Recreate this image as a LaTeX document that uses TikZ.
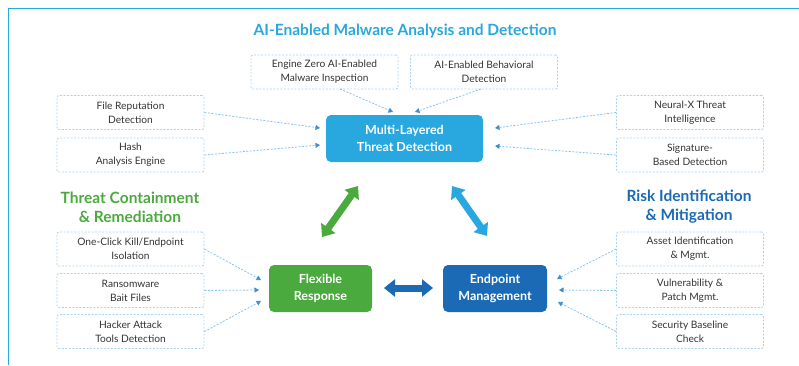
\documentclass[tikz,border=0pt]{standalone}
\usepackage{fontspec}
\setmainfont{Lato}
\usetikzlibrary{arrows.meta,positioning}
\definecolor{aicyan}{HTML}{29A7DF}
\definecolor{rgreen}{HTML}{4BAA3E}
\definecolor{mblue}{HTML}{1B6AB5}
\definecolor{dbox}{HTML}{A9D3EE}
\definecolor{dline}{HTML}{86C3EA}
\definecolor{dtip}{HTML}{3D8FD1}
\definecolor{txt}{HTML}{333333}
\begin{document}
\begin{tikzpicture}[x=1pt,y=-1pt,
        feat/.style={draw=dbox,line width=0.8pt,dash pattern=on 2pt off 1.5pt,rounded corners=2pt,minimum width=147pt,minimum height=34pt,align=center,text=txt,font=\fontsize{10.2}{14}\selectfont,inner sep=0pt},
        core/.style={fill=#1,rounded corners=5pt,minimum height=47pt,align=center,text=white,font=\fontsize{12.5}{17}\selectfont\bfseries,inner sep=0pt},
        hdr/.style={text=#1,align=center,font=\fontsize{15.5}{19}\selectfont\bfseries},
        conn/.style={dline,line width=0.8pt,dash pattern=on 2pt off 1.5pt,-{Triangle[length=4.5pt,width=5pt,color=dtip]}},
        dbl/.style={#1,line width=7pt,{Triangle[length=11pt,width=17pt]}-{Triangle[length=11pt,width=17pt]}}]
                                \useasboundingbox (0,0) rectangle (799,365);
                                \draw[aicyan,line width=1pt] (8,365) -- (8,8) -- (799,8);

                                \node[hdr=aicyan] (t1) at (405,31) {AI-Enabled Malware Analysis and Detection};
                                \node[hdr=rgreen] (t2) at (130,207) {Threat Containment\\\& Remediation};
                                \node[hdr=mblue] (t3) at (689,207) {Risk Identification\\\& Mitigation};

                                \node[core=aicyan,minimum width=157pt] (multi) at (404.5,138.5) {Multi-Layered\\Threat Detection};
                                \node[core=rgreen,minimum width=103pt] (flex) at (320.5,288.5) {Flexible\\Response};
                                \node[core=mblue,minimum width=104pt] (endp) at (495,288.5) {Endpoint\\Management};

                                \node[feat] (a1) at (324.5,72) {Engine Zero AI-Enabled\\Malware Inspection};
                                \node[feat] (a2) at (484,72) {AI-Enabled Behavioral\\Detection};
                                \node[feat] (a3) at (130.5,112.5) {File Reputation\\Detection};
                                \node[feat] (a4) at (130.5,155) {Hash\\Analysis Engine};
                                \node[feat] (a5) at (690,112.5) {Neural-X Threat\\Intelligence};
                                \node[feat] (a6) at (690,155) {Signature-\\Based Detection};

                                \node[feat] (b1) at (130.5,249) {One-Click Kill/Endpoint\\Isolation};
                                \node[feat] (b2) at (130.5,290.5) {Ransomware\\Bait Files};
                                \node[feat] (b3) at (130.5,331.5) {Hacker Attack\\Tools Detection};

                                \node[feat] (c1) at (690,249) {Asset Identification\\\& Mgmt.};
                                \node[feat] (c2) at (690,290.5) {Vulnerability \&\\Patch Mgmt.};
                                \node[feat] (c3) at (690,331.5) {Security Baseline\\Check};

                                \coordinate (m1) at (393,112);
                                \coordinate (m2) at (415,112);
                                \coordinate (m3) at (320,128);
                                \coordinate (m4) at (320,145);
                                \coordinate (m5) at (495,128);
                                \coordinate (m6) at (495,146);
                                \coordinate (f1) at (261,280);
                                \coordinate (f2) at (259,290);
                                \coordinate (f3) at (261,301);
                                \coordinate (e1) at (557,279);
                                \coordinate (e2) at (559,290);
                                \coordinate (e3) at (558,302);

                                \draw[conn] (340,89) -- (m1);
                                \draw[conn] (481,89) -- (m2);
                                \draw[conn] (a3.east) -- (m3);
                                \draw[conn] (a4.east) -- (m4);
                                \draw[conn] (a5.west) -- (m5);
                                \draw[conn] (a6.west) -- (m6);
                                \draw[conn] (b1.east) -- (f1);
                                \draw[conn] (b2.east) -- (f2);
                                \draw[conn] (b3.east) -- (f3);
                                \draw[conn] (c1.west) -- (e1);
                                \draw[conn] (c2.west) -- (e2);
                                \draw[conn] (c3.west) -- (e3);

                                \coordinate (g1) at (322,237);
                                \coordinate (g2) at (358,186);
                                \coordinate (k1) at (452,186);
                                \coordinate (k2) at (487,236);
                                \coordinate (h1) at (384,288);
                                \coordinate (h2) at (433,288);
                                \draw[dbl=rgreen] (g1) -- (g2);
                                \draw[dbl=aicyan] (k1) -- (k2);
                                \draw[dbl=mblue] (h1) -- (h2);
                            \end{tikzpicture}
\end{document}
